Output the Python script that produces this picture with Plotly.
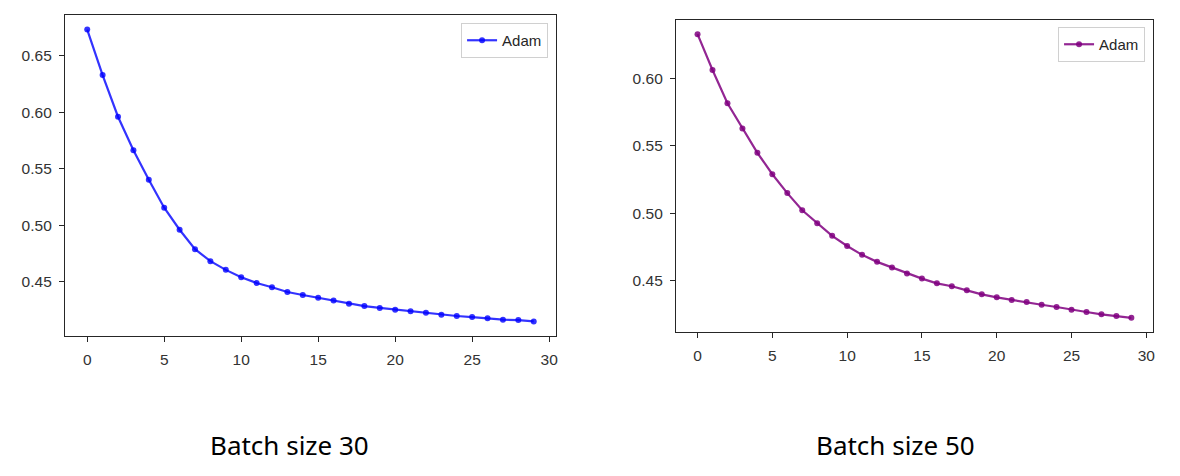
import plotly.graph_objects as go

W, H = 1180, 476

epochs = list(range(30))
loss_bs30 = [0.673, 0.6328, 0.5959, 0.5663, 0.5402, 0.5154, 0.4959, 0.4787, 0.4681, 0.4604,
             0.4539, 0.4488, 0.4450, 0.4408, 0.4382, 0.4358, 0.4332, 0.4305, 0.4284, 0.4267,
             0.4252, 0.4237, 0.4225, 0.4207, 0.4196, 0.4186, 0.4175, 0.4163, 0.4160, 0.4148]
loss_bs50 = [0.6328, 0.6062, 0.5816, 0.5629, 0.5448, 0.5289, 0.5149, 0.5022, 0.4926, 0.4832,
             0.4757, 0.4691, 0.4639, 0.4597, 0.4552, 0.4515, 0.4480, 0.4458, 0.4428, 0.4398,
             0.4376, 0.4356, 0.4341, 0.4321, 0.4304, 0.4284, 0.4267, 0.4250, 0.4237, 0.4224]
series_name = "Adam"
titles = ["Batch size 30", "Batch size 50"]
x_ticks = [0, 5, 10, 15, 20, 25, 30]
y_ticks_left = [0.45, 0.50, 0.55, 0.60, 0.65]
y_ticks_right = [0.45, 0.50, 0.55, 0.60]

def px_dom(a, b, total):
    return [a / total, b / total]

def ydom(top, bottom):
    return [(H - bottom) / H, (H - top) / H]

fig = go.Figure()
fig.add_trace(go.Scatter(x=epochs, y=loss_bs30, mode="lines+markers", name=series_name,
                         line=dict(color="rgba(0,0,255,0.8)", width=2.2),
                         marker=dict(size=6, color="rgba(0,0,255,0.8)"),
                         xaxis="x", yaxis="y", legend="legend"))
fig.add_trace(go.Scatter(x=epochs, y=loss_bs50, mode="lines+markers", name=series_name,
                         line=dict(color="rgba(128,0,128,0.85)", width=2.2),
                         marker=dict(size=6, color="rgba(128,0,128,0.85)"),
                         xaxis="x2", yaxis="y2", legend="legend2"))

tickfont = dict(family="Liberation Sans", size=15.5, color="#333333")
axis_common = dict(showline=True, linecolor="#262626", linewidth=1, mirror=True,
                   ticks="outside", ticklen=5, tickcolor="#262626", tickwidth=1,
                   ticklabelstandoff=4,
                   showgrid=False, zeroline=False, tickfont=tickfont)

def rng(vals):
    lo, hi = min(vals), max(vals)
    m = (hi - lo) * 0.05
    return [lo - m, hi + m]

legend_font = dict(family="Liberation Sans", size=15, color="#262626")

fig.update_layout(
    width=W, height=H, margin=dict(l=0, r=0, t=0, b=0),
    paper_bgcolor="white", plot_bgcolor="white",
    xaxis=dict(domain=px_dom(65, 557, W), range=[-1.45, 30.45], tickvals=x_ticks, anchor="y", **axis_common),
    yaxis=dict(domain=ydom(15, 336), range=rng(loss_bs30), tickvals=y_ticks_left,
               tickformat=".2f", anchor="x", **axis_common),
    xaxis2=dict(domain=px_dom(677, 1155, W), range=[-1.45, 30.45], tickvals=x_ticks, anchor="y2", **axis_common),
    yaxis2=dict(domain=ydom(20, 332), range=rng(loss_bs50), tickvals=y_ticks_right,
                tickformat=".2f", anchor="x2", **axis_common),
    legend=dict(x=549 / W, y=(H - 23) / H, xanchor="right", yanchor="top",
                bgcolor="rgba(255,255,255,0.8)", bordercolor="#d0d0d0", borderwidth=1,
                font=legend_font, itemwidth=30, tracegroupgap=0),
    legend2=dict(x=1147 / W, y=(H - 27) / H, xanchor="right", yanchor="top",
                 bgcolor="rgba(255,255,255,0.8)", bordercolor="#d0d0d0", borderwidth=1,
                 font=legend_font, itemwidth=30, tracegroupgap=0),
    showlegend=True,
    annotations=[
        dict(text=titles[0], x=290 / W, y=(H - 445) / H, xref="paper", yref="paper",
             showarrow=False, xanchor="center", yanchor="middle",
             font=dict(family="Noto Sans", size=26, color="black")),
        dict(text=titles[1], x=897 / W, y=(H - 445) / H, xref="paper", yref="paper",
             showarrow=False, xanchor="center", yanchor="middle",
             font=dict(family="Noto Sans", size=26, color="black")),
    ],
)

fig.write_html("out.html")
